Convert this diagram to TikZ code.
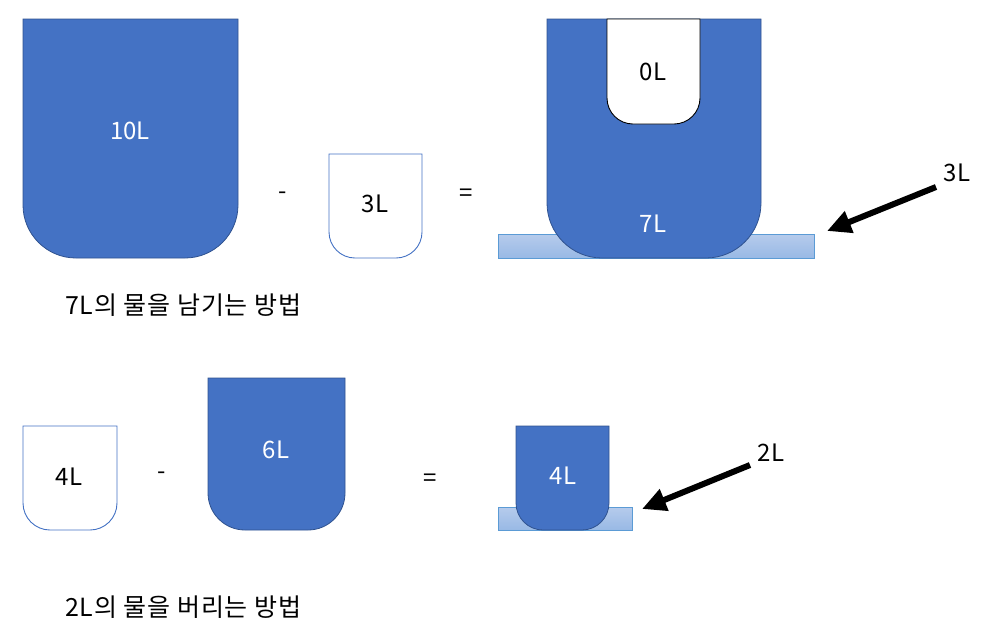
\documentclass[tikz,border=0pt]{standalone}
\usepackage{fontspec}
\setmainfont{Noto Sans CJK KR}
\usetikzlibrary{arrows.meta}
\definecolor{cupblue}{HTML}{4472C4}
\definecolor{cupedge}{HTML}{2F528F}
\definecolor{baredge}{HTML}{5B9BD5}
\definecolor{barTop}{RGB}{182,203,236}
\definecolor{barBot}{RGB}{152,185,229}
\newcommand\cupshape[6]{\path[#1] (#2,#3) -- (#2,{#5-#6}) .. controls (#2,{#5-0.4477*#6}) and ({#2+0.4477*#6},#5) .. ({#2+#6},#5) -- ({#4-#6},#5) .. controls ({#4-0.4477*#6},#5) and (#4,{#5-0.4477*#6}) .. (#4,{#5-#6}) -- (#4,#3) -- cycle;}
\begin{document}
\begin{tikzpicture}[x=1pt,y=-1pt,
  fullcup/.style={fill=cupblue,draw=cupedge,line width=0.8pt},
  emptycup/.style={fill=white,draw=cupblue,line width=0.9pt},
  innercup/.style={fill=white,draw=black,line width=0.9pt},
  barstyle/.style={draw=baredge,line width=0.9pt,top color=barTop,bottom color=barBot},
  wlabel/.style={text=white,font=\fontsize{24}{28}\selectfont,inner sep=0pt},
  blabel/.style={text=black,font=\fontsize{24}{28}\selectfont,inner sep=0pt},
  caption/.style={anchor=west,text=black,font=\fontsize{25}{30}\selectfont\addfontfeatures{LetterSpace=3.5},inner sep=0pt},
  pointer/.style={line width=6pt,draw=black,-{Triangle[length=24pt,width=22pt]}}]
\useasboundingbox (0,0) rectangle (990,627);
% row 1
\cupshape{fullcup}{23}{19}{238}{258}{53}
\cupshape{emptycup}{329}{154}{422}{258}{26}
\path[barstyle] (498,234) rectangle (814,258);
\cupshape{fullcup}{547}{19}{761}{258}{55}
\cupshape{innercup}{607}{19}{700}{124}{26}
\node[wlabel] (t10) at (130,131) {10L};
\node[blabel] (minusA) at (283,196) {-};
\node[blabel] (t3) at (375,204) {3L};
\node[blabel] (eqA) at (466,195) {=};
\node[blabel] (t0) at (653,72) {0L};
\node[wlabel] (t7) at (653,224) {7L};
\node[blabel] (l3) at (957,173) {3L};
\coordinate (a3s) at (936,187);
\coordinate (a3e) at (827,231);
\draw[pointer] (a3s) -- (a3e);
\node[caption] (cap1) at (65,305) {7L의 물을 남기는 방법};
% row 2
\cupshape{emptycup}{23}{426}{117}{530}{27}
\cupshape{fullcup}{208}{378}{345}{530}{37}
\path[barstyle] (498,507) rectangle (632,530);
\cupshape{fullcup}{516}{426}{609}{530}{27}
\node[blabel] (t4w) at (69,477) {4L};
\node[blabel] (minusB) at (162,476) {-};
\node[wlabel] (t6) at (276,450) {6L};
\node[blabel] (eqB) at (430,480) {=};
\node[wlabel] (t4b) at (563,476) {4L};
\node[blabel] (l2) at (771,453) {2L};
\coordinate (a2s) at (750,465);
\coordinate (a2e) at (642,509);
\draw[pointer] (a2s) -- (a2e);
\node[caption] (cap2) at (65,607) {2L의 물을 버리는 방법};
\end{tikzpicture}
\end{document}
